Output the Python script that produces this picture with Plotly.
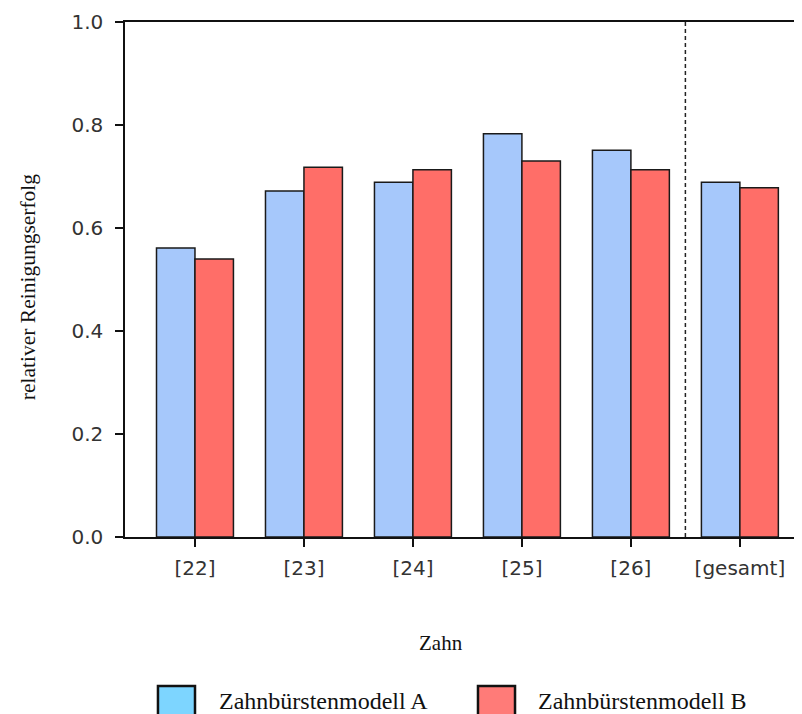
import plotly.graph_objects as go

categories = ["[22]", "[23]", "[24]", "[25]", "[26]", "[gesamt]"]
modell_a = [0.561, 0.672, 0.689, 0.783, 0.751, 0.689]
modell_b = [0.540, 0.718, 0.713, 0.730, 0.713, 0.678]
y_ticks = [0.0, 0.2, 0.4, 0.6, 0.8, 1.0]
name_a = "Zahnbürstenmodell A"
name_b = "Zahnbürstenmodell B"

serif = "Liberation Serif, Times New Roman, serif"

fig = go.Figure()
fig.add_trace(go.Bar(x=categories, y=modell_a, name=name_a, showlegend=False,
                     marker=dict(color="#a6c8fb", line=dict(color="#1a1a1a", width=1.5))))
fig.add_trace(go.Bar(x=categories, y=modell_b, name=name_b, showlegend=False,
                     marker=dict(color="#ff6e68", line=dict(color="#1a1a1a", width=1.5))))

# separator between single teeth and total
fig.add_shape(type="line", xref="x", yref="paper", x0=4.5, x1=4.5, y0=0, y1=1,
              line=dict(color="#222", width=1.5, dash="4px,3px"))

# custom legend (large swatches as in the reference)
legend_items = [(name_a, "#7dd5ff", 0.0487, 0.1034, 0.1359),
                (name_b, "#ff7b78", 0.5214, 0.5761, 0.6071)]
for label, col, x0, x1, xt in legend_items:
    fig.add_shape(type="rect", xref="paper", yref="paper", x0=x0, x1=x1, y0=-0.3612, y1=-0.2893,
                  fillcolor=col, line=dict(color="#111", width=2.5))
    fig.add_annotation(text=label, xref="paper", yref="paper", x=xt, y=-0.3184,
                       xanchor="left", yanchor="middle", showarrow=False,
                       font=dict(family=serif, size=24, color="#111"))

# axis titles
fig.add_annotation(text="Zahn", xref="paper", yref="paper", x=0.4668, y=-0.2058,
                   xanchor="center", yanchor="middle", showarrow=False,
                   font=dict(family=serif, size=21, color="#111"))
fig.add_annotation(text="relativer Reinigungserfolg", xref="paper", yref="paper",
                   x=-0.1433, y=0.487, xanchor="center", yanchor="middle", textangle=-90,
                   showarrow=False, font=dict(family=serif, size=21.5, color="#111"))

fig.update_layout(
    width=794, height=706,
    margin=dict(l=117, r=0, t=14, b=177, autoexpand=False),
    plot_bgcolor="white", paper_bgcolor="white",
    barmode="group", bargap=0.294, bargroupgap=0,
    showlegend=False,
    font=dict(family="DejaVu Sans, sans-serif", size=20, color="#333333"),
    xaxis=dict(range=[-0.642, 5.57], showline=True, linecolor="#111", linewidth=1.5,
               mirror=True, ticks="outside", ticklen=8, tickcolor="#111", tickwidth=1.5,
               ticklabelstandoff=4, showgrid=False, zeroline=False, automargin=False),
    yaxis=dict(range=[0, 1], tickvals=y_ticks, tickformat=".1f", showline=True,
               linecolor="#111", linewidth=1.5, ticks="outside", ticklen=8, tickcolor="#111",
               tickwidth=1.5, ticklabelstandoff=8, showgrid=False, zeroline=False,
               automargin=False),
)

fig.write_html("out.html")
